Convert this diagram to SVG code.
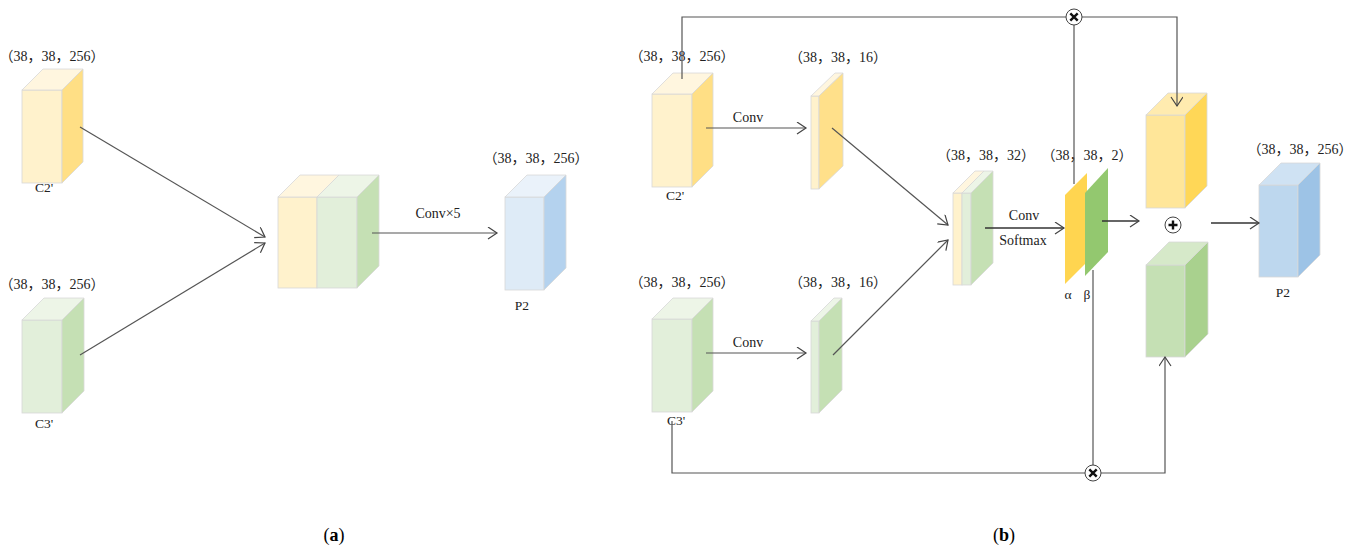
<svg xmlns="http://www.w3.org/2000/svg" width="1360" height="549" viewBox="0 0 1360 549">
<style>
.t{font-family:"Liberation Serif","Noto Sans CJK SC",serif;font-size:14px;fill:#222;text-anchor:middle}
.lb{font-family:"Liberation Serif","Noto Sans CJK SC",serif;font-size:13.5px;fill:#222;text-anchor:middle}
.cv{font-family:"Liberation Serif",serif;font-size:14px;fill:#222;text-anchor:middle}
.cap{font-family:"Liberation Serif",serif;font-size:18px;fill:#000;text-anchor:middle}
.ln{fill:none;stroke:#555;stroke-width:1.2}
.lk{fill:none;stroke:#333;stroke-width:1.5}
.e{stroke:#d8d8d8;stroke-width:0.8}
</style>
<defs>
<marker id="ah" markerUnits="userSpaceOnUse" markerWidth="12" markerHeight="14" refX="10" refY="6" orient="auto">
<path d="M1,0 L10,6 L1,12" fill="none" stroke="#444" stroke-width="1.2"/>
</marker>
</defs>

<g id="a_c2">
<rect class="e" x="22" y="90" width="40" height="93" fill="#FFF2CC"/>
<polygon class="e" points="22,90 43,69 83,69 62,90" fill="#FFF6DF"/>
<polygon class="e" points="62,90 83,69 83,162 62,183" fill="#FFDF85"/>
<text class="t" x="52" y="61">（38，38，256）</text>
<text class="lb" x="44" y="192">C2'</text>
</g>
<g id="a_c3">
<rect class="e" x="22" y="320" width="40" height="93" fill="#E2EFDA"/>
<polygon class="e" points="22,320 44,298 84,298 62,320" fill="#EDF5E7"/>
<polygon class="e" points="62,320 84,298 84,391 62,413" fill="#C5E0B4"/>
<text class="t" x="52" y="289">（38，38，256）</text>
<text class="lb" x="44" y="428">C3'</text>
</g>
<g id="a_concat">
<rect class="e" x="278" y="197" width="39" height="91" fill="#FFF2CC"/>
<rect class="e" x="317" y="197" width="40" height="91" fill="#E2EFDA"/>
<polygon class="e" points="278,197 300,175 339,175 317,197" fill="#FFF6DF"/>
<polygon class="e" points="317,197 339,175 379,175 357,197" fill="#EDF5E7"/>
<polygon class="e" points="357,197 379,175 379,266 357,288" fill="#C5E0B4"/>
<text class="cv" x="438" y="218">Conv×5</text>
</g>
<g id="a_p2">
<rect class="e" x="505" y="197" width="39" height="93" fill="#DEEBF7"/>
<polygon class="e" points="505,197 527,175 566,175 544,197" fill="#EAF2FA"/>
<polygon class="e" points="544,197 566,175 566,268 544,290" fill="#B4D2EE"/>
<text class="t" x="536" y="163">（38，38，256）</text>
<text class="lb" x="522" y="310">P2</text>
</g>

<g id="b_c2">
<rect class="e" x="652" y="94" width="40" height="93" fill="#FFF2CC"/>
<polygon class="e" points="652,94 673,73 713,73 692,94" fill="#FFF6DF"/>
<polygon class="e" points="692,94 713,73 713,166 692,187" fill="#FFDF85"/>
<text class="t" x="682" y="61">（38，38，256）</text>
<text class="lb" x="675" y="200">C2'</text>
<text class="cv" x="748" y="122">Conv</text>
</g>
<g id="b_y16">
<rect class="e" x="811" y="96" width="8" height="93" fill="#FFF2CC"/>
<polygon class="e" points="811,96 835,73 843,73 819,96" fill="#FFF6DF"/>
<polygon class="e" points="819,96 843,73 843,166 819,189" fill="#FFE08A"/>
<text class="t" x="838" y="62">（38，38，16）</text>
</g>
<g id="b_c3">
<rect class="e" x="652" y="319" width="40" height="93" fill="#E2EFDA"/>
<polygon class="e" points="652,319 673,298 713,298 692,319" fill="#EDF5E7"/>
<polygon class="e" points="692,319 713,298 713,391 692,412" fill="#C5E0B4"/>
<text class="t" x="682" y="287">（38，38，256）</text>
<text class="lb" x="676" y="425">C3'</text>
<text class="cv" x="748" y="347">Conv</text>
</g>
<g id="b_g16">
<rect class="e" x="811" y="321" width="8" height="92" fill="#E2EFDA"/>
<polygon class="e" points="811,321 834,298 842,298 819,321" fill="#EDF5E7"/>
<polygon class="e" points="819,321 842,298 842,390 819,413" fill="#C5E0B4"/>
<text class="t" x="838" y="287">（38，38，16）</text>
</g>
<g id="b_concat">
<rect class="e" x="953" y="193" width="9" height="92" fill="#FFF2CC"/>
<polygon class="e" points="953,193 975,171 984,171 962,193" fill="#FFF6DF"/>
<rect class="e" x="962" y="193" width="9" height="92" fill="#E2EFDA"/>
<polygon class="e" points="962,193 984,171 993,171 971,193" fill="#EDF5E7"/>
<polygon class="e" points="971,193 993,171 993,263 971,285" fill="#C5E0B4"/>
<text class="t" x="986" y="160">（38，38，32）</text>
<text class="cv" x="1024" y="220">Conv</text>
<text class="cv" x="1023" y="245">Softmax</text>
</g>
<g id="b_ab">
<polygon points="1065,195 1087,173 1087,262 1065,284" fill="#FFD550"/>
<polygon points="1085,193 1108,168 1108,252 1085,276" fill="#93C86F"/>
<text class="t" x="1087" y="160">（38，38，2）</text>
<text class="lb" x="1068" y="299">α</text>
<text class="lb" x="1087" y="299">β</text>
</g>
<g id="b_yel">
<rect class="e" x="1146" y="115" width="39" height="93" fill="#FFE699"/>
<polygon class="e" points="1146,115 1168,93 1207,93 1185,115" fill="#FFEBAF"/>
<polygon class="e" points="1185,115 1207,93 1207,186 1185,208" fill="#FFD757"/>
</g>
<g id="b_grn">
<rect class="e" x="1146" y="265" width="39" height="92" fill="#C5E0B4"/>
<polygon class="e" points="1146,265 1169,242 1208,242 1185,265" fill="#D6E9C9"/>
<polygon class="e" points="1185,265 1208,242 1208,334 1185,357" fill="#A9D18E"/>
</g>
<g id="b_p2">
<rect class="e" x="1259" y="185" width="39" height="92" fill="#BDD7EE"/>
<polygon class="e" points="1259,185 1281,163 1320,163 1298,185" fill="#CFE2F3"/>
<polygon class="e" points="1298,185 1320,163 1320,255 1298,277" fill="#9DC3E6"/>
<text class="t" x="1300" y="154">（38，38，256）</text>
<text class="lb" x="1283" y="297">P2</text>
</g>

<g id="connectors">
<line class="ln" x1="80" y1="127" x2="265" y2="237" marker-end="url(#ah)"/>
<line class="ln" x1="80" y1="355" x2="265" y2="243" marker-end="url(#ah)"/>
<line class="ln" x1="372" y1="233" x2="497" y2="233" marker-end="url(#ah)"/>
<line class="ln" x1="706" y1="128" x2="806" y2="128" marker-end="url(#ah)"/>
<line class="ln" x1="706" y1="353" x2="806" y2="353" marker-end="url(#ah)"/>
<line class="ln" x1="832" y1="128" x2="948" y2="225" marker-end="url(#ah)"/>
<line class="ln" x1="833" y1="355" x2="948" y2="240" marker-end="url(#ah)"/>
<line class="lk" x1="985" y1="228" x2="1064" y2="228" marker-end="url(#ah)"/>
<line class="lk" x1="1102" y1="221" x2="1139" y2="221" marker-end="url(#ah)"/>
<line class="lk" x1="1211" y1="223" x2="1259" y2="223" marker-end="url(#ah)"/>
<polyline class="ln" points="682,79 682,17 1066,17"/>
<polyline class="ln" points="1082,17 1177,17 1177,106" marker-end="url(#ah)"/>
<line class="ln" x1="1074" y1="25" x2="1074" y2="184"/>
<polyline class="ln" points="672,421 672,473 1085,473"/>
<polyline class="ln" points="1101,473 1165,473 1165,357" marker-end="url(#ah)"/>
<line class="ln" x1="1093" y1="270" x2="1093" y2="465"/>
</g>

<g id="b_mul_top">
<circle cx="1074" cy="17" r="8" fill="#fff" stroke="#444" stroke-width="1"/>
<path d="M1070.3,13.3 L1077.7,20.7 M1077.7,13.3 L1070.3,20.7" stroke="#111" stroke-width="2.4"/>
</g>
<g id="b_mul_bot">
<circle cx="1093" cy="473" r="8" fill="#fff" stroke="#444" stroke-width="1"/>
<path d="M1089.3,469.3 L1096.7,476.7 M1096.7,469.3 L1089.3,476.7" stroke="#111" stroke-width="2.4"/>
</g>
<g id="b_add">
<circle cx="1173" cy="225" r="8" fill="#fff" stroke="#444" stroke-width="1"/>
<path d="M1168.5,225 L1177.5,225 M1173,220.5 L1173,229.5" stroke="#111" stroke-width="2.4"/>
</g>

<g id="captions">
<text class="cap" x="334" y="541">(<tspan font-weight="bold">a</tspan>)</text>
<text class="cap" x="1004" y="541">(<tspan font-weight="bold">b</tspan>)</text>
</g>
</svg>
